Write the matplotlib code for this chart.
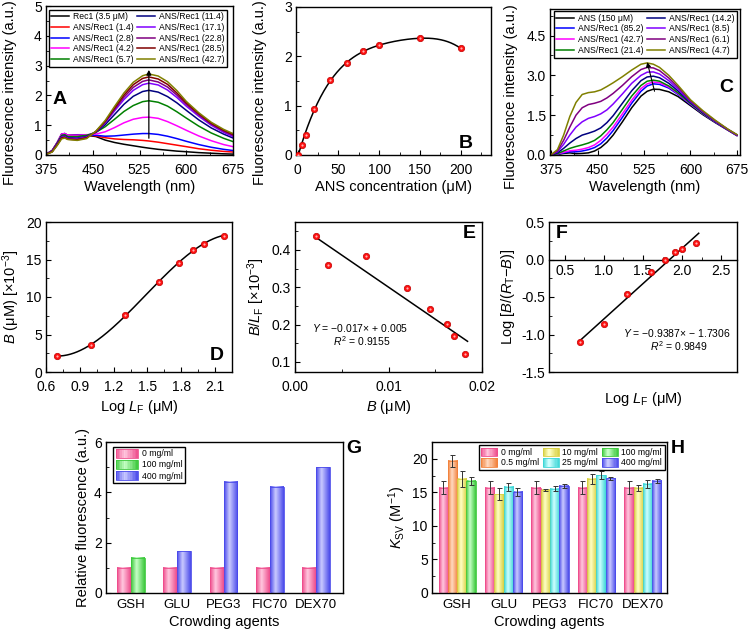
import numpy as np
import matplotlib
matplotlib.use("Agg")
import matplotlib.pyplot as plt
from matplotlib.colors import LinearSegmentedColormap
from matplotlib.patches import Rectangle
from matplotlib.legend_handler import HandlerBase
from matplotlib.ticker import AutoMinorLocator, FormatStrFormatter

plt.rcParams['font.family'] = ['Liberation Sans', 'DejaVu Sans']
plt.rcParams['mathtext.fontset'] = 'custom'
plt.rcParams['mathtext.rm'] = 'Liberation Sans'
plt.rcParams['mathtext.it'] = 'Liberation Sans:italic'
plt.rcParams['mathtext.bf'] = 'Liberation Sans:bold'

# ---------------------------------------------------------------
# data
# ---------------------------------------------------------------
# A: ANS titration of Rec1 (emission spectra)
wl_a = [375, 385, 393, 400, 405, 410, 425, 440, 455, 470, 485, 500,
        515, 530, 540, 555, 570, 585, 600, 620, 640, 660, 675]
a_rec1 = [0.02, 0.15, 0.40, 0.60, 0.62, 0.60, 0.65, 0.66, 0.62, 0.50, 0.42, 0.36,
          0.31, 0.26, 0.23, 0.19, 0.16, 0.13, 0.11, 0.08, 0.06, 0.04, 0.03]
a_14 = [0.02, 0.15, 0.42, 0.70, 0.72, 0.66, 0.68, 0.68, 0.64, 0.58, 0.54, 0.52,
        0.51, 0.49, 0.47, 0.43, 0.38, 0.33, 0.28, 0.21, 0.16, 0.12, 0.10]
a_28 = [0.02, 0.15, 0.42, 0.70, 0.72, 0.66, 0.67, 0.68, 0.66, 0.63, 0.64, 0.67,
        0.70, 0.72, 0.72, 0.69, 0.63, 0.55, 0.46, 0.35, 0.26, 0.19, 0.15]
a_42 = [0.02, 0.15, 0.42, 0.70, 0.72, 0.66, 0.66, 0.68, 0.70, 0.78, 0.92, 1.08,
        1.20, 1.26, 1.27, 1.23, 1.12, 0.98, 0.83, 0.64, 0.48, 0.35, 0.28]
a_57 = [0.02, 0.14, 0.40, 0.66, 0.68, 0.62, 0.62, 0.66, 0.76, 0.95, 1.20, 1.46,
        1.66, 1.79, 1.82, 1.77, 1.64, 1.45, 1.24, 0.97, 0.74, 0.56, 0.45]
a_114 = [0.02, 0.13, 0.38, 0.62, 0.64, 0.58, 0.57, 0.62, 0.76, 1.02, 1.36, 1.70,
         1.97, 2.13, 2.17, 2.11, 1.96, 1.75, 1.50, 1.18, 0.91, 0.70, 0.57]
a_171 = [0.02, 0.12, 0.36, 0.60, 0.62, 0.56, 0.55, 0.60, 0.78, 1.08, 1.48, 1.86,
         2.17, 2.36, 2.41, 2.35, 2.18, 1.93, 1.64, 1.30, 1.00, 0.76, 0.62]
a_228 = [0.02, 0.12, 0.35, 0.58, 0.60, 0.54, 0.53, 0.58, 0.78, 1.11, 1.53, 1.94,
         2.27, 2.47, 2.52, 2.45, 2.28, 2.01, 1.70, 1.35, 1.04, 0.80, 0.66]
a_285 = [0.02, 0.11, 0.34, 0.57, 0.59, 0.53, 0.51, 0.57, 0.79, 1.13, 1.58, 2.01,
         2.36, 2.57, 2.62, 2.55, 2.37, 2.08, 1.75, 1.39, 1.07, 0.83, 0.69]
a_427 = [0.02, 0.10, 0.32, 0.54, 0.57, 0.52, 0.49, 0.55, 0.80, 1.16, 1.63, 2.08,
         2.44, 2.66, 2.72, 2.65, 2.46, 2.16, 1.80, 1.42, 1.10, 0.86, 0.72]
a_labels = ['Rec1 (3.5 μM)', 'ANS/Rec1 (1.4)', 'ANS/Rec1 (2.8)', 'ANS/Rec1 (4.2)',
            'ANS/Rec1 (5.7)', 'ANS/Rec1 (11.4)', 'ANS/Rec1 (17.1)', 'ANS/Rec1 (22.8)',
            'ANS/Rec1 (28.5)', 'ANS/Rec1 (42.7)']
a_colors = ['#000000', '#FF0000', '#0000FF', '#FF00FF', '#008000',
            '#000080', '#8000FF', '#800080', '#800000', '#808000']

# B: fluorescence vs ANS concentration
b_conc = [0, 5, 10, 20, 40, 60, 80, 100, 150, 200]
b_int = [0.0, 0.21, 0.40, 0.94, 1.52, 1.86, 2.10, 2.22, 2.37, 2.16]

# C: Rec1 titration of ANS
wl_c = [375, 385, 395, 405, 415, 425, 435, 445, 455, 465, 475, 490,
        505, 520, 530, 540, 550, 565, 580, 600, 620, 640, 660, 675]
c_ans = [0.00, 0.02, 0.06, 0.08, 0.05, 0.06, 0.08, 0.15, 0.28, 0.48, 0.75, 1.25,
         1.78, 2.22, 2.40, 2.48, 2.47, 2.38, 2.20, 1.86, 1.52, 1.22, 0.94, 0.73]
c_852 = [0.00, 0.03, 0.08, 0.12, 0.12, 0.15, 0.20, 0.28, 0.42, 0.64, 0.92, 1.42,
         1.95, 2.40, 2.60, 2.68, 2.66, 2.52, 2.28, 1.90, 1.55, 1.24, 0.95, 0.74]
c_427 = [0.00, 0.04, 0.10, 0.16, 0.18, 0.22, 0.28, 0.38, 0.55, 0.78, 1.05, 1.55,
         2.06, 2.50, 2.68, 2.75, 2.72, 2.56, 2.31, 1.92, 1.56, 1.25, 0.95, 0.74]
c_214 = [0.00, 0.05, 0.15, 0.25, 0.32, 0.38, 0.45, 0.55, 0.72, 0.95, 1.22, 1.72,
         2.22, 2.62, 2.78, 2.82, 2.78, 2.60, 2.34, 1.94, 1.57, 1.26, 0.96, 0.75]
c_142 = [0.01, 0.08, 0.25, 0.45, 0.62, 0.75, 0.82, 0.90, 1.02, 1.22, 1.48, 1.95,
         2.42, 2.80, 2.94, 2.97, 2.91, 2.70, 2.41, 1.98, 1.60, 1.27, 0.96, 0.75]
c_85 = [0.01, 0.12, 0.40, 0.75, 1.05, 1.25, 1.38, 1.45, 1.55, 1.70, 1.92, 2.30,
        2.70, 3.00, 3.12, 3.13, 3.05, 2.80, 2.48, 2.01, 1.62, 1.28, 0.97, 0.75]
c_61 = [0.01, 0.15, 0.55, 1.05, 1.50, 1.78, 1.90, 1.95, 2.02, 2.15, 2.32, 2.62,
        2.95, 3.22, 3.30, 3.28, 3.18, 2.90, 2.55, 2.04, 1.64, 1.29, 0.97, 0.76]
c_47 = [0.02, 0.20, 0.75, 1.45, 1.98, 2.28, 2.35, 2.38, 2.45, 2.58, 2.72, 2.95,
        3.20, 3.42, 3.47, 3.42, 3.30, 3.00, 2.62, 2.08, 1.67, 1.31, 0.98, 0.77]
c_labels = ['ANS (150 μM)', 'ANS/Rec1 (85.2)', 'ANS/Rec1 (42.7)', 'ANS/Rec1 (21.4)',
            'ANS/Rec1 (14.2)', 'ANS/Rec1 (8.5)', 'ANS/Rec1 (6.1)', 'ANS/Rec1 (4.7)']
c_colors = ['#000000', '#0000FF', '#FF00FF', '#008000',
            '#000080', '#8000FF', '#800080', '#808000']

# D, E, F: binding analysis
log_lf = [0.699, 1.0, 1.301, 1.602, 1.778, 1.903, 2.0, 2.176]
d_bound = [2.15, 3.57, 7.63, 11.96, 14.5, 16.3, 17.1, 18.2]
e_bound = [0.00221, 0.00356, 0.00759, 0.01195, 0.01444, 0.01622, 0.0170, 0.01818]
e_ratio = [0.438, 0.359, 0.383, 0.299, 0.241, 0.202, 0.169, 0.121]
f_hill = [-1.098, -0.862, -0.455, -0.161, -0.013, 0.094, 0.143, 0.214]

# G: relative fluorescence in crowders
agents = ['GSH', 'GLU', 'PEG3', 'FIC70', 'DEX70']
g_zero = [1.0, 1.0, 1.0, 1.0, 1.0]
g_crowd = [1.41, 1.65, 4.42, 4.22, 5.0]
g_crowd_conc = ['100 mg/ml', '400 mg/ml', '400 mg/ml', '400 mg/ml', '400 mg/ml']

# H: Ksv in crowders
h_conc = [['0 mg/ml', '0.5 mg/ml', '10 mg/ml', '100 mg/ml'],
          ['0 mg/ml', '10 mg/ml', '25 mg/ml', '400 mg/ml'],
          ['0 mg/ml', '10 mg/ml', '25 mg/ml', '400 mg/ml'],
          ['0 mg/ml', '10 mg/ml', '25 mg/ml', '400 mg/ml'],
          ['0 mg/ml', '10 mg/ml', '25 mg/ml', '400 mg/ml']]
h_ksv = [[15.7, 19.7, 17.0, 16.7],
         [15.7, 14.75, 15.8, 15.05],
         [15.7, 15.35, 15.55, 15.95],
         [15.7, 17.0, 17.55, 17.1],
         [15.7, 15.65, 16.3, 16.7]]
h_err = [[0.95, 0.9, 1.2, 0.6],
         [0.95, 0.9, 0.6, 0.6],
         [0.95, 0.2, 0.4, 0.3],
         [0.95, 0.7, 0.6, 0.2],
         [0.95, 0.5, 0.6, 0.3]]

# (dark edge, light highlight) for the shaded bars
conc_colors = {'0 mg/ml': ('#EE4C8C', '#FFC8DF'),
               '0.5 mg/ml': ('#F2823C', '#FFDAC2'),
               '10 mg/ml': ('#D8D040', '#FFFFC6'),
               '25 mg/ml': ('#3CD6D6', '#CFFFFF'),
               '100 mg/ml': ('#3CC83C', '#C6FFC6'),
               '400 mg/ml': ('#4A4AEA', '#CACAFF')}

# ---------------------------------------------------------------
# helpers
# ---------------------------------------------------------------
W, H = 750, 634
fig = plt.figure(figsize=(7.5, 6.34), dpi=100)


def px_axes(x0, y0, x1, y1):
    return fig.add_axes([x0 / W, 1 - y1 / H, (x1 - x0) / W, (y1 - y0) / H])


def style(ax, minor_x=True):
    ax.tick_params(which='both', direction='in', top=False, right=False, labelsize=10)
    ax.tick_params(which='major', length=3.5, width=0.8)
    ax.tick_params(which='minor', length=2, width=0.6)
    ax.tick_params(axis='x', pad=5)
    ax.tick_params(axis='y', pad=3)
    ax.yaxis.set_minor_locator(AutoMinorLocator(2))
    if minor_x:
        ax.xaxis.set_minor_locator(AutoMinorLocator(2))
    for s in ax.spines.values():
        s.set_linewidth(1.0)


def grad_cmap(dark, light):
    return LinearSegmentedColormap.from_list('g', [(0, dark), (0.4, light), (1, dark)])


def grad_bar(ax, x, h, w, key):
    dark, light = conc_colors[key]
    ax.imshow(np.linspace(0, 1, 64).reshape(1, -1), cmap=grad_cmap(dark, light),
              extent=[x - w / 2, x + w / 2, 0, h], aspect='auto', zorder=2,
              interpolation='bilinear')
    ax.add_patch(Rectangle((x - w / 2, 0), w, h, fill=False, edgecolor=dark,
                           lw=0.6, zorder=3))


class GradKey:
    def __init__(self, key):
        self.key = key


class GradHandler(HandlerBase):
    def create_artists(self, legend, orig_handle, xdescent, ydescent, width, height,
                       fontsize, trans):
        dark, light = conc_colors[orig_handle.key]
        cmap = grad_cmap(dark, light)
        n = 14
        arts = []
        for i in range(n):
            arts.append(Rectangle((-xdescent + width * i / n, -ydescent), width / n + 0.3,
                                  height, facecolor=cmap((i + 0.5) / n),
                                  edgecolor='none', transform=trans))
        arts.append(Rectangle((-xdescent, -ydescent), width, height, fill=False,
                              edgecolor=dark, lw=0.6, transform=trans))
        return arts


def red_dots(ax, x, y):
    ax.plot(x, y, 'o', ms=4.6, mfc='#FF1010', mec='#C00000', mew=0.5, zorder=4)
    ax.plot(x, y, 'o', ms=1.6, mfc='#FFB0B0', mec='none', zorder=5)


def panel(ax, s, x, y):
    ax.text(x, y, s, transform=ax.transAxes, fontsize=14, fontweight='bold',
            ha='center', va='center')


leg_kw = dict(frameon=True, fancybox=False, edgecolor='black', framealpha=1,
              fontsize=6.2, borderpad=0.3, labelspacing=0.2, handletextpad=0.4,
              columnspacing=0.4, borderaxespad=0.0)

# ---------------------------------------------------------------
# A
# ---------------------------------------------------------------
ax = px_axes(46, 6, 233, 155)
for vals, lab, col in zip([a_rec1, a_14, a_28, a_42, a_57, a_114, a_171, a_228, a_285, a_427],
                          a_labels, a_colors):
    ax.plot(wl_a, vals, color=col, lw=1.1, label=lab)
ax.annotate('', xy=(540, 2.95), xytext=(540, 0.47),
            arrowprops=dict(arrowstyle='-|>', color='k', lw=0.9, mutation_scale=7))
ax.set_xlim(375, 675)
ax.set_ylim(0, 5)
ax.set_xticks([375, 450, 525, 600, 675])
ax.set_yticks([0, 1, 2, 3, 4, 5])
style(ax)
ax.tick_params(axis='x', pad=6)
ax.set_xlabel('Wavelength (nm)', fontsize=10.5, labelpad=2)
ax.set_ylabel('Fluorescence intensity (a.u.)', fontsize=10.5)
ax.yaxis.set_label_coords(-0.155, 0.42)
ax.legend(loc='upper left', bbox_to_anchor=(0.015, 0.975), ncol=2, handlelength=2.1,
          **leg_kw)
panel(ax, 'A', 0.075, 0.37)

# ---------------------------------------------------------------
# B
# ---------------------------------------------------------------
ax = px_axes(296, 7, 491, 155)
cb = np.polyfit(b_conc, b_int, 4)
xs = np.linspace(min(b_conc), max(b_conc), 200)
ax.plot(xs, np.polyval(cb, xs), color='k', lw=1.1, zorder=3)
red_dots(ax, b_conc, b_int)
ax.set_xlim(-2, 237)
ax.set_ylim(0, 3)
ax.set_xticks([0, 50, 100, 150, 200])
ax.set_yticks([0, 1, 2, 3])
style(ax)
ax.tick_params(axis='x', pad=6)
ax.set_xlabel('ANS concentration (μM)', fontsize=10.5, labelpad=2)
ax.set_ylabel('Fluorescence intensity (a.u.)', fontsize=10.5)
ax.yaxis.set_label_coords(-0.149, 0.42)
panel(ax, 'B', 0.87, 0.08)

# ---------------------------------------------------------------
# C
# ---------------------------------------------------------------
ax = px_axes(550, 9, 740, 155)
for vals, lab, col in zip([c_ans, c_852, c_427, c_214, c_142, c_85, c_61, c_47],
                          c_labels, c_colors):
    ax.plot(wl_c, vals, color=col, lw=1.1, label=lab)
ax.annotate('', xy=(529, 3.6), xytext=(543, 2.3),
            arrowprops=dict(arrowstyle='-|>', color='k', lw=0.8, mutation_scale=7))
ax.set_xlim(373, 680)
ax.set_ylim(0, 5.5)
ax.set_xticks([375, 450, 525, 600, 675])
ax.set_yticks([0, 1.5, 3.0, 4.5])
ax.yaxis.set_major_formatter(FormatStrFormatter('%.1f'))
style(ax)
ax.tick_params(axis='x', pad=6)
ax.set_xlabel('Wavelength (nm)', fontsize=10.5, labelpad=2)
ax.set_ylabel('Fluorescence intensity (a.u.)', fontsize=10.5)
ax.yaxis.set_label_coords(-0.168, 0.40)
ax.legend(loc='upper left', bbox_to_anchor=(0.02, 0.985), ncol=2, handlelength=2.1,
          **leg_kw)
panel(ax, 'C', 0.93, 0.46)

# ---------------------------------------------------------------
# D
# ---------------------------------------------------------------
ax = px_axes(46, 222, 232, 372)
cd = np.polyfit(log_lf, d_bound, 3)
xs = np.linspace(min(log_lf), max(log_lf), 200)
ax.plot(xs, np.polyval(cd, xs), color='k', lw=1.1, zorder=3)
red_dots(ax, log_lf, d_bound)
ax.set_xlim(0.6, 2.25)
ax.set_ylim(0, 20)
ax.set_xticks([0.6, 0.9, 1.2, 1.5, 1.8, 2.1])
ax.set_yticks([0, 5, 10, 15, 20])
ax.xaxis.set_major_formatter(FormatStrFormatter('%.1f'))
style(ax)
ax.tick_params(axis='x', pad=6)
ax.set_xlabel(r'Log $L_\mathrm{F}$ (μM)', fontsize=10.5, labelpad=3)
ax.set_ylabel(r'$B$ (μM) [×10$^{-3}$]', fontsize=10.5, labelpad=3)
panel(ax, 'D', 0.92, 0.11)

# ---------------------------------------------------------------
# E
# ---------------------------------------------------------------
ax = px_axes(295, 222, 482, 372)
ce = np.polyfit(e_bound, e_ratio, 1)
xs = np.array([min(e_bound), max(e_bound) * 1.015])
ax.plot(xs, np.polyval(ce, xs), color='k', lw=1.1, zorder=3)
red_dots(ax, e_bound, e_ratio)
ax.set_xlim(0, 0.02)
ax.set_ylim(0.073, 0.475)
ax.set_xticks([0, 0.01, 0.02])
ax.set_yticks([0.1, 0.2, 0.3, 0.4])
ax.xaxis.set_major_formatter(FormatStrFormatter('%.2f'))
ax.yaxis.set_major_formatter(FormatStrFormatter('%.1f'))
style(ax)
ax.tick_params(axis='x', pad=6)
ax.set_xlabel(r'$B$ (μM)', fontsize=10.5, labelpad=3)
ax.set_ylabel(r'$B/L_\mathrm{F}$ [×10$^{-3}$]', fontsize=10.5, labelpad=3)
ax.text(0.35, 0.293, r'$Y$ = −0.017× + 0.005', transform=ax.transAxes,
        fontsize=7.5, ha='center', va='center')
ax.text(0.36, 0.207, r'$R^2$ = 0.9155', transform=ax.transAxes,
        fontsize=7.5, ha='center', va='center')
panel(ax, 'E', 0.93, 0.92)

# ---------------------------------------------------------------
# F
# ---------------------------------------------------------------
ax = px_axes(549, 222, 737, 372)
cf = np.polyfit(log_lf, f_hill, 1)
xs = np.array([min(log_lf) - 0.01, max(log_lf) + 0.035])
ax.plot(xs, np.polyval(cf, xs), color='k', lw=1.1, zorder=3)
red_dots(ax, log_lf, f_hill)
ax.set_xlim(0.3, 2.7)
ax.set_ylim(-1.5, 0.5)
ax.set_xticks([0.5, 1.0, 1.5, 2.0, 2.5])
ax.set_yticks([-1.5, -1.0, -0.5, 0.0, 0.5])
ax.xaxis.set_major_formatter(FormatStrFormatter('%.1f'))
ax.yaxis.set_major_formatter(FormatStrFormatter('%.1f'))
style(ax)
ax.tick_params(axis='x', pad=3)
ax.spines['bottom'].set_position(('data', 0))
ax.plot([0, 1], [0, 0], transform=ax.transAxes, color='k', lw=1.0, clip_on=False)
ax.set_xlabel(r'Log $L_\mathrm{F}$ (μM)', fontsize=10.5)
ax.xaxis.set_label_coords(0.5, -0.12)
ax.set_ylabel(r'Log [$B$/($R_\mathrm{T}$−$B$)]', fontsize=10.5, labelpad=3)
ax.text(0.68, 0.26, r'$Y$ = −0.9387× − 1.7306', transform=ax.transAxes,
        fontsize=7.5, ha='center', va='center')
ax.text(0.69, 0.173, r'$R^2$ = 0.9849', transform=ax.transAxes,
        fontsize=7.5, ha='center', va='center')
panel(ax, 'F', 0.07, 0.92)

# ---------------------------------------------------------------
# G
# ---------------------------------------------------------------
ax = px_axes(106, 442, 343, 593)
pos = np.arange(len(agents))
for i in range(len(agents)):
    grad_bar(ax, pos[i] - 0.15, g_zero[i], 0.3, '0 mg/ml')
    grad_bar(ax, pos[i] + 0.15, g_crowd[i], 0.3, g_crowd_conc[i])
ax.set_xlim(-0.54, 4.58)
ax.set_ylim(0, 6)
ax.set_xticks(pos)
ax.set_xticklabels(agents)
ax.set_yticks([0, 2, 4, 6])
style(ax, minor_x=False)
ax.tick_params(axis='x', which='both', length=0, labelsize=9.5, pad=4)
ax.set_xlabel('Crowding agents', fontsize=10.5, labelpad=3)
ax.set_ylabel('Relative fluorescence (a.u.)', fontsize=10.5, labelpad=3)
g_keys = ['0 mg/ml', '100 mg/ml', '400 mg/ml']
ax.legend([GradKey(k) for k in g_keys], g_keys, handler_map={GradKey: GradHandler()},
          loc='upper left', bbox_to_anchor=(0.03, 0.97), handlelength=2.6,
          handleheight=1.2, **leg_kw)
panel(ax, 'G', 1.045, 0.96)

# ---------------------------------------------------------------
# H
# ---------------------------------------------------------------
ax = px_axes(432, 442, 667, 593)
offsets = [-0.3, -0.1, 0.1, 0.3]
for i in range(len(agents)):
    for j in range(4):
        x = pos[i] + offsets[j]
        grad_bar(ax, x, h_ksv[i][j], 0.2, h_conc[i][j])
        ax.errorbar(x, h_ksv[i][j], yerr=h_err[i][j], color='#333333', lw=0.7,
                    capsize=1.8, capthick=0.7, zorder=4)
ax.set_xlim(-0.54, 4.52)
ax.set_ylim(0, 22.5)
ax.set_xticks(pos)
ax.set_xticklabels(agents)
ax.set_yticks([0, 5, 10, 15, 20])
style(ax, minor_x=False)
ax.tick_params(axis='x', which='both', length=0, labelsize=9.5, pad=4)
ax.set_xlabel('Crowding agents', fontsize=10.5, labelpad=3)
ax.set_ylabel(r'$K_\mathrm{SV}$ (M$^{-1}$)', fontsize=10.5, labelpad=3)
h_keys = ['0 mg/ml', '0.5 mg/ml', '10 mg/ml', '25 mg/ml', '100 mg/ml', '400 mg/ml']
ax.legend([GradKey(k) for k in h_keys], h_keys, handler_map={GradKey: GradHandler()},
          loc='upper right', bbox_to_anchor=(0.99, 0.98), ncol=3, handlelength=1.9,
          handleheight=1.1, **leg_kw)
panel(ax, 'H', 1.047, 0.96)

fig.savefig('out.png', dpi=100)
